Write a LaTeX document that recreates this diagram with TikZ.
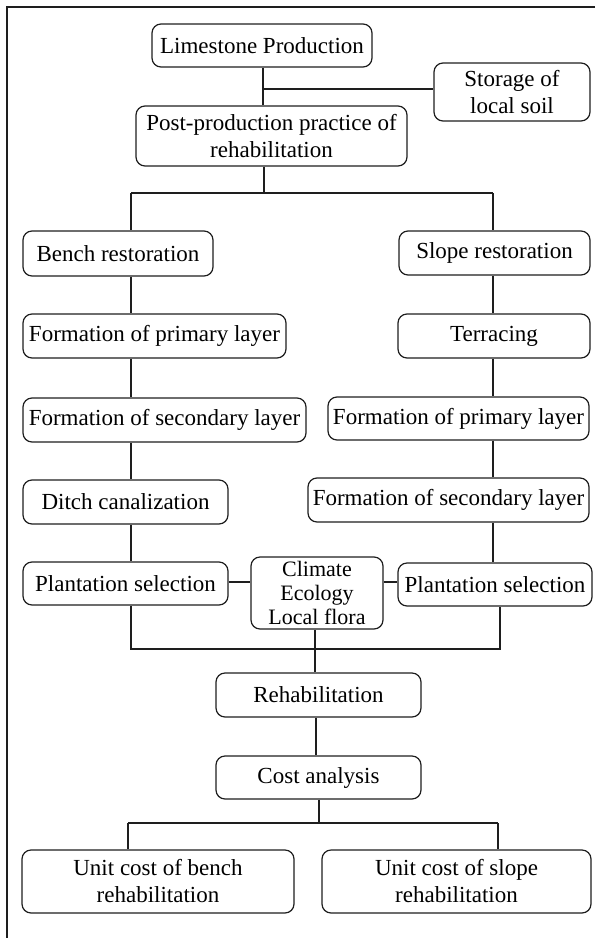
\documentclass[tikz,border=0pt]{standalone}
\usepackage{fontspec}
\setmainfont{Liberation Serif}
\usetikzlibrary{positioning, calc}
\definecolor{inkgray}{RGB}{30, 30, 30}
\tikzset{
  stage/.style={
    draw=inkgray,
    line width=1.2pt,
    rounded corners=9pt,
    fill=white,
    align=center,
    inner sep=0pt,
    font=\fontsize{23}{27}\selectfont,
    text=black
  },
  link/.style={
    draw=inkgray,
    line width=1.2pt
  },
  frame/.style={
    draw=inkgray,
    line width=1.5pt
  }
}
\begin{document}
\begin{tikzpicture}[x=1pt, y=-1pt]
  \useasboundingbox (0,0) rectangle (595,938);
  % outer frame (top and left only)
  \coordinate (ftl) at (7,7);
  \draw[frame] (ftl -| 595,0) -- (ftl) -- (ftl |- 0,938);

  % column lines
  \coordinate (lx) at (131,0);
  \coordinate (rx) at (493,0);

  \node[stage, minimum width=220, minimum height=43] (lime) at (262,45.5) {Limestone Production};
  \node[stage, minimum width=156, minimum height=58] (soil) at (512,92) {Storage of\\local soil};
  \node[stage, minimum width=271, minimum height=60] (post) at (271.5,136) {Post-production practice of\\rehabilitation};

  \node[stage, minimum width=190, minimum height=45] (bench) at (118,253.5) {Bench restoration};
  \node[stage, minimum width=263, minimum height=44] (primL) at (154.5,336) {Formation of primary layer};
  \node[stage, minimum width=283, minimum height=44] (secL) at (164.5,420) {Formation of secondary layer};
  \node[stage, minimum width=205, minimum height=44] (ditch) at (125.5,502) {Ditch canalization};
  \node[stage, minimum width=205, minimum height=43] (plantL) at (125.5,583.5) {Plantation selection};

  \node[stage, minimum width=191, minimum height=44] (slope) at (494.5,253) {Slope restoration};
  \node[stage, minimum width=192, minimum height=44] (terr) at (494,336) {Terracing};
  \node[stage, minimum width=261, minimum height=43] (primR) at (458.5,418.5) {Formation of primary layer};
  \node[stage, minimum width=281, minimum height=44] (secR) at (448.5,500) {Formation of secondary layer};
  \node[stage, minimum width=194, minimum height=43] (plantR) at (495,584.5) {Plantation selection};

  \node[stage, minimum width=132, minimum height=72, font=\fontsize{22}{24}\selectfont] (clim) at (317,593) {Climate\\Ecology\\Local flora};

  \node[stage, minimum width=205, minimum height=44] (rehab) at (318.5,695) {Rehabilitation};
  \node[stage, minimum width=205, minimum height=43] (cost) at (318.5,777.5) {Cost analysis};
  \node[stage, minimum width=272, minimum height=63] (ubench) at (158,881.5) {Unit cost of bench\\rehabilitation};
  \node[stage, minimum width=269, minimum height=63] (uslope) at (456.5,881.5) {Unit cost of slope\\rehabilitation};

  % junctions
  \coordinate (j1) at (263,89);
  \coordinate (j2) at (264,193);
  \coordinate (j3) at (315,649);
  \coordinate (j4) at (319,823);

  % top part
  \draw[link] (lime.south -| j1) -- (post.north -| j1);
  \draw[link] (j1) -- (j1 -| soil.west);
  \draw[link] (post.south -| j2) -- (j2);
  \draw[link] (j2 -| lx) -- (j2 -| rx);
  \draw[link] (j2 -| lx) -- (bench.north -| lx);
  \draw[link] (j2 -| rx) -- (slope.north -| rx);

  % bench column
  \draw[link] (bench.south -| lx) -- (primL.north -| lx);
  \draw[link] (primL.south -| lx) -- (secL.north -| lx);
  \draw[link] (secL.south -| lx) -- (ditch.north -| lx);
  \draw[link] (ditch.south -| lx) -- (plantL.north -| lx);

  % slope column
  \draw[link] (slope.south -| rx) -- (terr.north -| rx);
  \draw[link] (terr.south -| rx) -- (primR.north -| rx);
  \draw[link] (primR.south -| rx) -- (secR.north -| rx);
  \draw[link] (secR.south -| rx) -- (plantR.north -| rx);

  % site factors
  \draw[link] (plantL.east |- 0,582) -- (clim.west |- 0,582);
  \draw[link] (clim.east |- 0,582) -- (plantR.west |- 0,582);

  % merge into rehabilitation
  \draw[link] (plantL.south -| lx) -- (j3 -| lx) -- (j3 -| 500,0) -- (plantR.south -| 500,0);
  \draw[link] (clim.south -| j3) -- (rehab.north -| j3);
  \draw[link] (rehab.south -| 316,0) -- (cost.north -| 316,0);

  % cost split
  \draw[link] (cost.south -| j4) -- (j4);
  \draw[link] (j4 -| 128,0) -- (j4 -| 498,0);
  \draw[link] (j4 -| 128,0) -- (ubench.north -| 128,0);
  \draw[link] (j4 -| 498,0) -- (uslope.north -| 498,0);
\end{tikzpicture}
\end{document}
